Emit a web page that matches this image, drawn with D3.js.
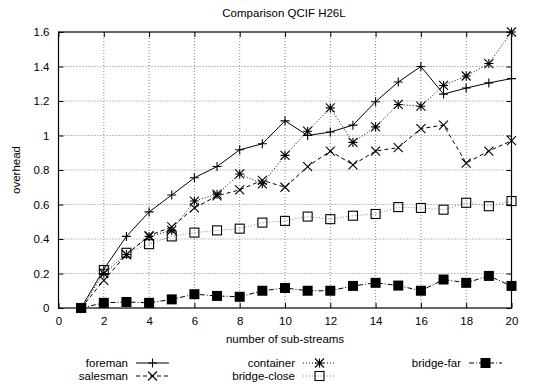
<!DOCTYPE html>
<html>
<head>
<meta charset="utf-8">
<script src="https://cdn.jsdelivr.net/npm/d3@7/dist/d3.min.js"></script>
<style>
  html, body { margin: 0; padding: 0; background: #fff; }
  svg { display: block; font-family: "Liberation Sans", Arial, sans-serif; }
</style>
</head>
<body>
<svg id="chart" width="549" height="389"></svg>
<script>
// Overhead per number of sub-streams for each QCIF test sequence
const streams = d3.range(1, 21);
const foreman     = [0, 0.225, 0.415, 0.557, 0.655, 0.755, 0.82, 0.917, 0.952, 1.085, 1.0, 1.02, 1.06, 1.196, 1.31, 1.40, 1.24, 1.275, 1.305, 1.33];
const salesman    = [0, 0.16, 0.31, 0.42, 0.47, 0.58, 0.65, 0.685, 0.74, 0.70, 0.82, 0.91, 0.83, 0.91, 0.93, 1.04, 1.06, 0.84, 0.91, 0.97];
const container   = [0, 0.20, 0.31, 0.415, 0.45, 0.62, 0.66, 0.777, 0.72, 0.885, 1.025, 1.16, 0.96, 1.05, 1.18, 1.17, 1.29, 1.345, 1.417, 1.60];
const bridgeClose = [0, 0.22, 0.32, 0.37, 0.415, 0.437, 0.45, 0.46, 0.495, 0.505, 0.53, 0.515, 0.535, 0.545, 0.585, 0.58, 0.57, 0.61, 0.59, 0.62];
const bridgeFar   = [0, 0.03, 0.035, 0.03, 0.05, 0.08, 0.07, 0.065, 0.10, 0.116, 0.10, 0.10, 0.128, 0.146, 0.13, 0.10, 0.165, 0.146, 0.186, 0.128];

const xTicks = [0, 2, 4, 6, 8, 10, 12, 14, 16, 18, 20];
const yTicks = [0, 0.2, 0.4, 0.6, 0.8, 1, 1.2, 1.4, 1.6];

const series = [
  { name: "foreman",      values: foreman,     marker: "plus",    dash: null,      color: "#000" },
  { name: "salesman",     values: salesman,    marker: "cross",   dash: "4,3",     color: "#000" },
  { name: "container",    values: container,   marker: "star",    dash: "1,2",     color: "#000" },
  { name: "bridge-close", values: bridgeClose, marker: "square",  dash: "1,2",     color: "#888" },
  { name: "bridge-far",   values: bridgeFar,   marker: "fsquare", dash: "5,2,1,2", color: "#000" }
];

const FS = 11.5;
const svg = d3.select("#chart");
const m = { left: 58.5, right: 511.5, top: 32, bottom: 308 };

const x = d3.scaleLinear().domain([0, 20]).range([m.left, m.right]);
const y = d3.scaleLinear().domain([0, 1.6]).range([m.bottom, m.top]);

// grid
const grid = svg.append("g").attr("stroke", "#666").attr("stroke-width", 0.8).attr("stroke-dasharray", "1,2");
grid.selectAll(".gx").data(xTicks.slice(1, -1)).join("line")
  .attr("x1", d => x(d)).attr("x2", d => x(d)).attr("y1", m.top).attr("y2", m.bottom);
grid.selectAll(".gy").data(yTicks.slice(1, -1)).join("line")
  .attr("y1", d => y(d)).attr("y2", d => y(d)).attr("x1", m.left).attr("x2", m.right);

// axes with inward ticks, mirrored on the top and right
const tickFmt = d => d3.format("~g")(d);
const axisFont = g => g.selectAll("text").attr("font-size", FS).attr("fill", "#000")
  .attr("font-family", "'Liberation Sans', Arial, sans-serif");

const gx = svg.append("g").attr("transform", `translate(0,${m.bottom})`)
  .call(d3.axisBottom(x).tickValues(xTicks).tickFormat(tickFmt).tickSizeInner(-5).tickSizeOuter(0).tickPadding(9));
gx.select(".domain").remove();
gx.selectAll("line").attr("stroke", "#000");
axisFont(gx);

const gy = svg.append("g").attr("transform", `translate(${m.left},0)`)
  .call(d3.axisLeft(y).tickValues(yTicks).tickFormat(tickFmt).tickSizeInner(-5).tickSizeOuter(0).tickPadding(9));
gy.select(".domain").remove();
gy.selectAll("line").attr("stroke", "#000");
axisFont(gy);

const gxt = svg.append("g").attr("transform", `translate(0,${m.top})`)
  .call(d3.axisTop(x).tickValues(xTicks).tickFormat("").tickSizeInner(-5).tickSizeOuter(0));
gxt.select(".domain").remove();
gxt.selectAll("line").attr("stroke", "#000");

const gyr = svg.append("g").attr("transform", `translate(${m.right},0)`)
  .call(d3.axisRight(y).tickValues(yTicks).tickFormat("").tickSizeInner(-5).tickSizeOuter(0));
gyr.select(".domain").remove();
gyr.selectAll("line").attr("stroke", "#000");

// border
svg.append("rect").attr("x", m.left).attr("y", m.top)
  .attr("width", m.right - m.left).attr("height", m.bottom - m.top)
  .attr("fill", "none").attr("stroke", "#000").attr("stroke-width", 1.2);

// markers
function drawMarker(g, type, cx, cy, color) {
  const s = 4.5;
  if (type === "plus") {
    g.append("path").attr("d", `M${cx - s},${cy}H${cx + s}M${cx},${cy - s}V${cy + s}`)
      .attr("stroke", color).attr("stroke-width", 1.1).attr("fill", "none");
  } else if (type === "cross") {
    g.append("path").attr("d", `M${cx - s},${cy - s}L${cx + s},${cy + s}M${cx - s},${cy + s}L${cx + s},${cy - s}`)
      .attr("stroke", color).attr("stroke-width", 1.1).attr("fill", "none");
  } else if (type === "star") {
    g.append("path").attr("d", `M${cx - s},${cy}H${cx + s}M${cx},${cy - s}V${cy + s}M${cx - s},${cy - s}L${cx + s},${cy + s}M${cx - s},${cy + s}L${cx + s},${cy - s}`)
      .attr("stroke", color).attr("stroke-width", 1.1).attr("fill", "none");
  } else if (type === "square") {
    g.append("rect").attr("x", cx - s).attr("y", cy - s).attr("width", 2 * s).attr("height", 2 * s)
      .attr("stroke", "#000").attr("stroke-width", 1.1).attr("fill", "none");
  } else if (type === "fsquare") {
    const f = 5;
    g.append("rect").attr("x", cx - f).attr("y", cy - f).attr("width", 2 * f).attr("height", 2 * f)
      .attr("fill", color);
  }
}

const line = d3.line().x((d, i) => x(streams[i])).y(d => y(d));

series.forEach(s => {
  const g = svg.append("g");
  g.append("path").datum(s.values).attr("d", line)
    .attr("fill", "none").attr("stroke", s.color).attr("stroke-width", 1)
    .attr("stroke-dasharray", s.dash);
  s.values.forEach((v, i) => drawMarker(g, s.marker, x(streams[i]), y(v), s.color));
});

// titles
svg.append("text").attr("x", 284).attr("y", 17).attr("text-anchor", "middle")
  .attr("font-size", FS).text("Comparison QCIF H26L");
svg.append("text").attr("x", 285).attr("y", 343).attr("text-anchor", "middle")
  .attr("font-size", FS).text("number of sub-streams");
svg.append("text").attr("transform", "translate(20,170) rotate(-90)").attr("text-anchor", "middle")
  .attr("font-size", FS).text("overhead");

// legend: three columns, label right-aligned before a line sample
const legendPos = [
  { textX: 128, y: 363 },
  { textX: 128, y: 376 },
  { textX: 295, y: 363 },
  { textX: 295, y: 376 },
  { textX: 461, y: 363 }
];
series.forEach((s, i) => {
  const p = legendPos[i];
  const g = svg.append("g");
  g.append("text").attr("x", p.textX).attr("y", p.y + 4).attr("text-anchor", "end")
    .attr("font-size", FS).text(s.name);
  const x0 = p.textX + 8, x1 = p.textX + 41;
  g.append("line").attr("x1", x0).attr("x2", x1).attr("y1", p.y).attr("y2", p.y)
    .attr("stroke", s.color).attr("stroke-width", 1).attr("stroke-dasharray", s.dash);
  drawMarker(g, s.marker, (x0 + x1) / 2, p.y, s.color);
});
</script>
</body>
</html>
